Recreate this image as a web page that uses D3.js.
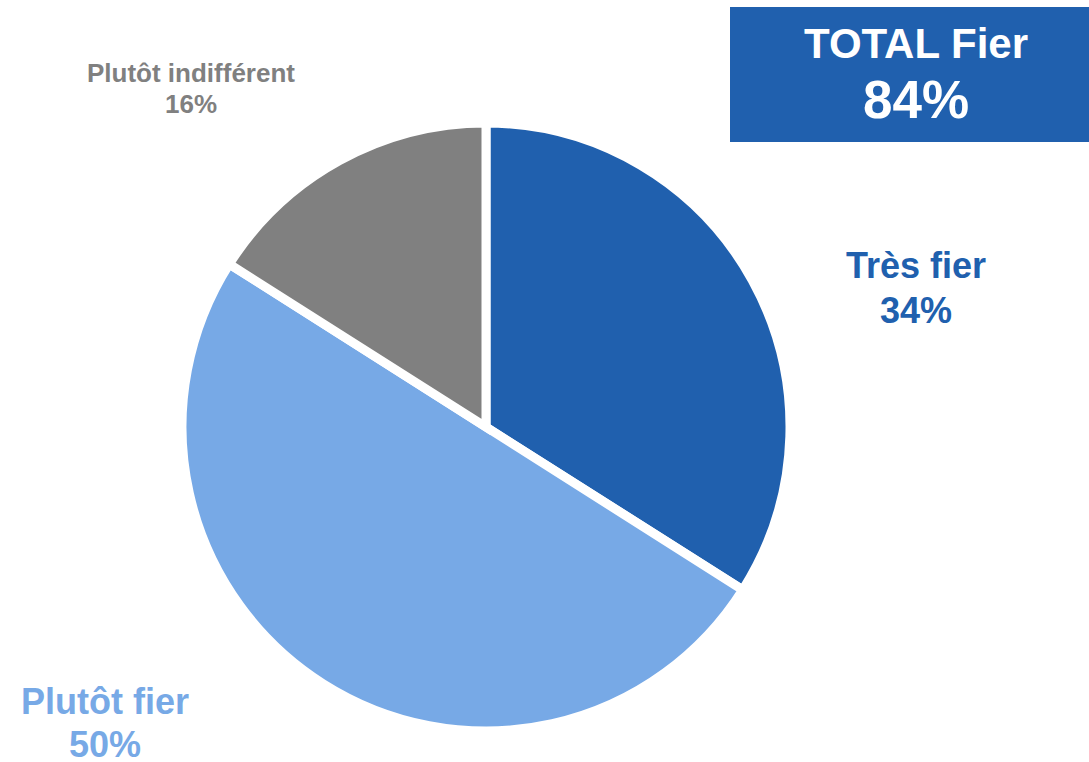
<!DOCTYPE html>
<html>
<head>
<meta charset="utf-8">
<script src="https://cdn.jsdelivr.net/npm/d3@7"></script>
<style>
  body { margin: 0; background: #fff; }
  text { font-family: "Liberation Sans", Arial, sans-serif; font-weight: bold; }
</style>
</head>
<body>
<div id="chart"></div>
<script>
var categories = ["Très fier", "Plutôt fier", "Plutôt indifférent"];
var values = [34, 50, 16];
var colors = ["#2060AE", "#77A9E6", "#808080"];
var totalLabel = "TOTAL Fier";
var totalValue = "84%";

var width = 1089, height = 762;
var svg = d3.select("#chart").append("svg")
  .attr("width", width)
  .attr("height", height);

var cx = 486, cy = 427, radius = 304;

var pie = d3.pie().sort(null).value(function(d) { return d; });
var arc = d3.arc().innerRadius(0).outerRadius(radius);

var g = svg.append("g").attr("transform", "translate(" + cx + "," + cy + ")");
g.selectAll("path")
  .data(pie(values))
  .enter().append("path")
  .attr("d", arc)
  .attr("fill", function(d, i) { return colors[i]; })
  .attr("stroke", "#fff")
  .attr("stroke-width", 9)
  .attr("stroke-linejoin", "miter");

// slice labels
var labelPos = [
  { x: 916, y: 278, size: 36, gap: 45 },
  { x: 105, y: 714, size: 36, gap: 43 },
  { x: 191, y: 82, size: 26, gap: 31 }
];
categories.forEach(function(c, i) {
  var p = labelPos[i];
  var t = svg.append("text")
    .attr("text-anchor", "middle")
    .attr("fill", colors[i])
    .style("font-size", p.size + "px");
  t.append("tspan").attr("x", p.x).attr("y", p.y).text(c);
  t.append("tspan").attr("x", p.x).attr("y", p.y + p.gap).text(values[i] + "%");
});

// total box
svg.append("rect")
  .attr("x", 730).attr("y", 7)
  .attr("width", 359).attr("height", 135)
  .attr("fill", "#2060AE");
svg.append("text")
  .attr("x", 916).attr("y", 58)
  .attr("text-anchor", "middle")
  .attr("fill", "#fff")
  .style("font-size", "42px")
  .text(totalLabel);
svg.append("text")
  .attr("x", 916).attr("y", 118)
  .attr("text-anchor", "middle")
  .attr("fill", "#fff")
  .style("font-size", "53px")
  .text(totalValue);
</script>
</body>
</html>
